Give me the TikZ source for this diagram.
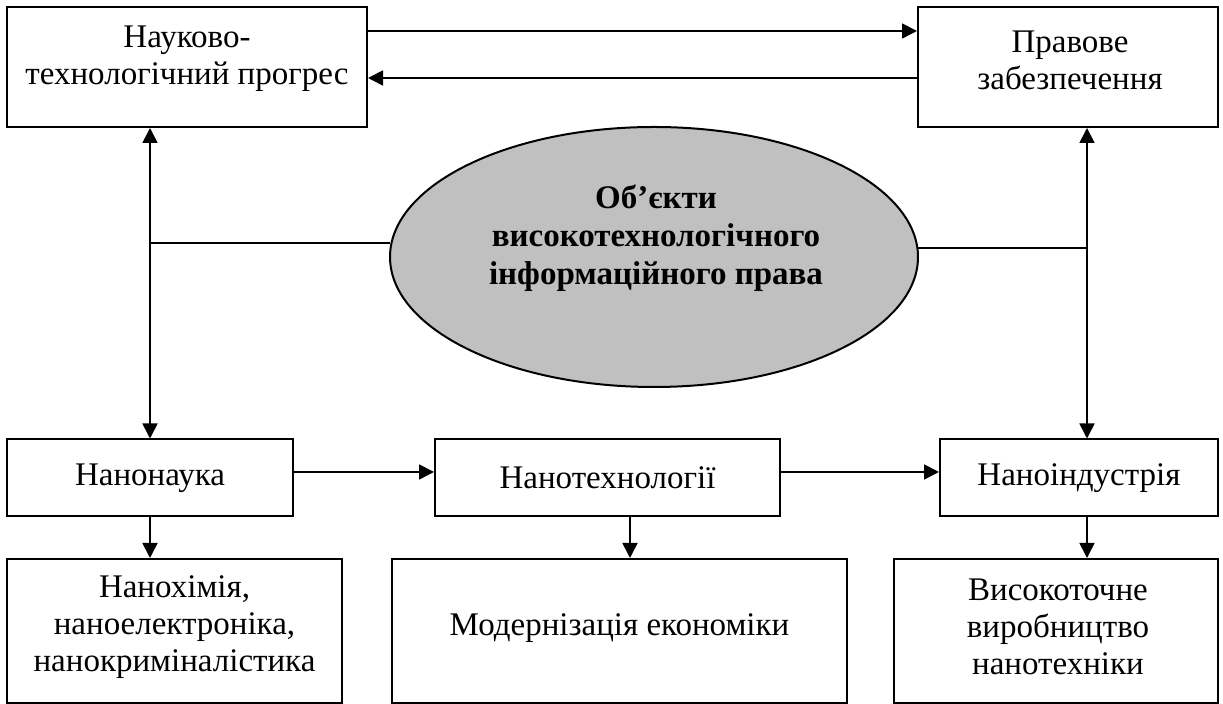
\documentclass[tikz,border=0pt]{standalone}
\usepackage{fontspec}
\setmainfont{Liberation Serif}
\usetikzlibrary{arrows.meta,shapes.geometric}
\definecolor{ellgray}{RGB}{192,192,192}
\tikzset{
  box/.style={draw, line width=1pt, rectangle, inner sep=0pt},
  txt/.style={align=center, inner sep=0pt, font=\fontsize{16.5pt}{18.5pt}\selectfont},
  btxt/.style={align=center, inner sep=0pt, font=\fontsize{16.5pt}{19pt}\selectfont\bfseries},
  conn/.style={line width=0.85pt},
  arr/.style={conn, -{Triangle[length=7.5pt,width=7.5pt]}},
  darr/.style={conn, {Triangle[length=7.5pt,width=7.5pt]}-{Triangle[length=7.5pt,width=7.5pt]}}
}
\begin{document}
\begin{tikzpicture}[x=0.5pt,y=-0.5pt]
\useasboundingbox (0,0) rectangle (1223,704);
% top boxes
\node[box, minimum width=180pt, minimum height=60pt] (tl) at (187,67) {};
\node[txt] (tltext) at (187,58.5) {Науково-\\технологічний прогрес};
\node[box, minimum width=150pt, minimum height=60pt] (tr) at (1068,67) {};
\node[txt] (trtext) at (1070,60) {Правове\\забезпечення};
% ellipse
\node[draw, line width=1pt, ellipse, fill=ellgray, minimum width=264pt, minimum height=130pt, inner sep=0pt] (ell) at (654,257) {};
\node[btxt] (elltext) at (656,238) {Об’єкти\\високотехнологічного\\інформаційного права};
% middle row
\node[box, minimum width=143pt, minimum height=38.5pt] (nn) at (150,478) {};
\node[txt] at (nn) {Нанонаука};
\node[box, minimum width=172.5pt, minimum height=38.5pt] (nt) at (607.5,478) {};
\node[txt] at (nt) {Нанотехнології};
\node[box, minimum width=139pt, minimum height=38.5pt] (ni) at (1079,478) {};
\node[txt] at (ni) {Наноіндустрія};
% bottom row
\node[box, minimum width=167.5pt, minimum height=72pt] (bA) at (174.5,631) {};
\node[txt] at (174.5,627) {Нанохімія,\\наноелектроніка,\\нанокриміналістика};
\node[box, minimum width=227.5pt, minimum height=72pt] (bB) at (619.5,631) {};
\node[txt] at (619.5,628) {Модернізація економіки};
\node[box, minimum width=162pt, minimum height=72pt] (bC) at (1056,631) {};
\node[txt] at (1058,627) {Високоточне\\виробництво\\нанотехніки};
% coordinates
\coordinate (rx) at (1087,247);
\coordinate (mx) at (630,478);
% top arrows
\draw[arr] ([yshift=-12.5pt]tl.north east) -- ([yshift=-12.5pt]tl.north east -| tr.west);
\draw[arr] ([yshift=-36pt]tr.north west) -- ([yshift=-36pt]tr.north west -| tl.east);
% verticals
\draw[darr] (nn.north) -- (nn.north |- tl.south);
\draw[darr] (rx |- ni.north) -- (rx |- tr.south);
\draw[conn] (ell.177.8) -- (ell.177.8 -| nn.north);
\draw[conn] (ell.2.2) -- (ell.2.2 -| rx);
% middle arrows
\draw[arr] ([yshift=3pt]nn.east) -- ([yshift=3pt]nn.east -| nt.west);
\draw[arr] ([yshift=3pt]nt.east) -- ([yshift=3pt]nt.east -| ni.west);
% down arrows
\draw[arr] (nn.south) -- (nn.south |- bA.north);
\draw[arr] (mx |- nt.south) -- (mx |- bB.north);
\draw[arr] (rx |- ni.south) -- (rx |- bC.north);
\end{tikzpicture}
\end{document}
